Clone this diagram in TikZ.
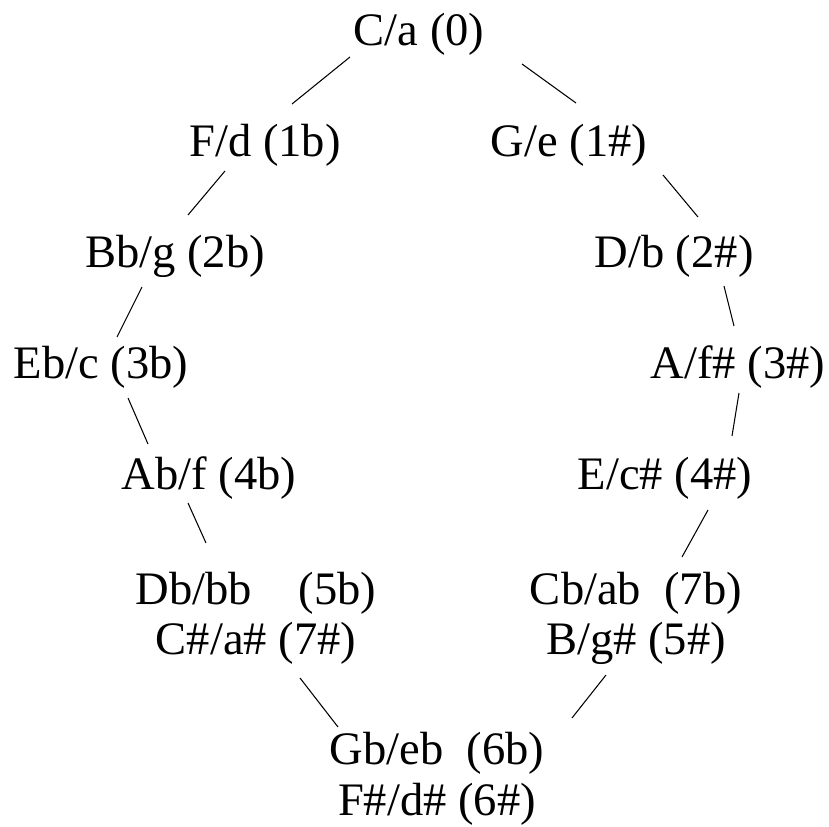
\documentclass[tikz,border=0pt]{standalone}
\usepackage{fontspec}
\setmainfont{Liberation Serif}
\usetikzlibrary{calc}
\tikzstyle{key}=[inner sep=0pt, anchor=base, align=center, font=\fontsize{26.5}{29}\selectfont]
\tikzstyle{link}=[line width=0.6pt]
\newcommand{\joinkeys}[4]
{
  \draw[link] ([shift={(#2)}]#1.base) -- ([shift={(#4)}]#3.base);
}
\begin{document}
\begin{tikzpicture}[x=0.02cm, y=-0.02cm]
	\useasboundingbox (0,0) rectangle (829,827);

	% flats on the left, sharps on the right
	\node[key] (Ca) at (419,46) {C/a (0)};
	\node[key] (Fd) at (265,157) {F/d (1b)};
	\node[key] (Ge) at (569,157) {G/e (1\#)};
	\node[key] (Bbg) at (175,268) {Bb/g (2b)};
	\node[key] (Db) at (674,268) {D/b (2\#)};
	\node[key] (Ebc) at (101,379) {Eb/c (3b)};
	\node[key] (Afs) at (738,379) {A/f\# (3\#)};
	\node[key] (Abf) at (209,490) {Ab/f (4b)};
	\node[key] (Ecs) at (665,490) {E/c\# (4\#)};
	% base anchor sits on the second line here
	\node[key] (Dbbb) at (256,655) {Db/bb~~~~(5b)\\C\#/a\# (7\#)};
	\node[key] (Cbab) at (636,655) {Cb/ab~~(7b)\\B/g\# (5\#)};
	\node[key] (Gbeb) at (437,815) {Gb/eb~~(6b)\\F\#/d\# (6\#)};

	\joinkeys{Ca}{-69,11}{Fd}{27,-53}
	\joinkeys{Ca}{103,18}{Ge}{7,-54}
	\joinkeys{Fd}{-40,14}{Bbg}{13,-53}
	\joinkeys{Ge}{94,18}{Db}{24,-51}
	\joinkeys{Bbg}{-33,19}{Ebc}{16,-42}
	\joinkeys{Db}{50,18}{Afs}{-4,-53}
	\joinkeys{Ebc}{27,19}{Abf}{-61,-46}
	\joinkeys{Afs}{1,14}{Ecs}{67,-54}
	\joinkeys{Abf}{-21,13}{Dbbb}{-50,-112}
	\joinkeys{Ecs}{43,20}{Cbab}{46,-98}
	\joinkeys{Dbbb}{44,23}{Gbeb}{-99,-88}
	\joinkeys{Cbab}{-30,20}{Gbeb}{135,-97}

\end{tikzpicture}
\end{document}
